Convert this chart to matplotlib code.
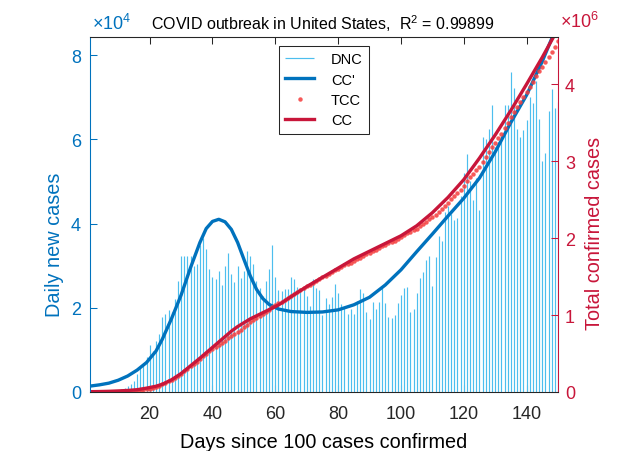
import matplotlib

matplotlib.use("Agg")
import matplotlib.pyplot as plt
import numpy as np

plt.rcParams["font.family"] = ["Liberation Sans", "DejaVu Sans"]
plt.rcParams["mathtext.fontset"] = "custom"
plt.rcParams["mathtext.rm"] = "Liberation Sans"
plt.rcParams["mathtext.default"] = "regular"

# daily new cases, days 1..150 (units of 1e4)
days = np.arange(1, 151)
dnc = [
    0.003, 0.004, 0.005, 0.007, 0.009, 0.012, 0.016, 0.022, 0.03, 0.04,
    0.06, 0.09, 0.14, 0.19, 0.26, 0.43, 0.58, 0.65, 0.84, 1.11,
    0.98, 1.22, 1.37, 1.78, 1.85, 1.94, 1.89, 2.20, 2.64, 3.23,
    3.23, 3.23, 3.24, 2.99, 3.05, 3.48, 3.66, 3.40, 2.91, 2.72,
    2.68, 2.87, 2.54, 2.99, 3.29, 2.80, 2.60, 2.98, 2.70, 2.87,
    3.35, 3.23, 3.03, 2.64, 2.48, 2.28, 2.64, 2.91, 3.48, 2.72,
    2.42, 2.40, 2.44, 2.44, 2.73, 2.68, 2.50, 2.48, 2.44, 2.28,
    2.03, 2.68, 2.46, 2.42, 1.82, 2.23, 2.09, 2.26, 2.56, 2.35,
    2.10, 2.01, 1.85, 1.97, 1.85, 2.16, 2.44, 2.35, 1.89, 1.73,
    2.14, 1.97, 2.14, 2.48, 2.11, 1.78, 1.75, 1.82, 2.11, 2.30,
    2.48, 2.50, 1.89, 1.97, 2.36, 2.70, 2.84, 3.14, 3.22, 2.51,
    3.21, 3.70, 3.59, 4.27, 4.42, 4.22, 4.08, 4.12, 4.65, 5.19,
    5.66, 5.01, 4.57, 5.09, 4.31, 6.06, 6.01, 6.25, 6.82, 5.82,
    5.93, 6.07, 6.81, 6.82, 7.59, 7.22, 6.25, 6.05, 6.22, 6.45,
    7.01, 6.85, 7.38, 6.49, 5.48, 5.68, 6.67, 7.20, 6.75, 6.88,
]
first_total = 100

# fitted curves
fit_days = [1, 4, 7, 10, 13, 16, 19, 22, 24, 27, 30, 33, 36, 38, 40, 42, 44,
            46, 48, 50, 52, 54, 56, 58, 61, 65, 70, 75, 80, 85, 90, 95, 100,
            105, 110, 115, 120, 125, 130, 135, 140, 145, 150]
cc_prime = [0.14, 0.17, 0.21, 0.28, 0.38, 0.52, 0.70, 0.97, 1.25, 1.75, 2.30,
            2.95, 3.55, 3.88, 4.05, 4.10, 4.04, 3.86, 3.55, 3.15, 2.76, 2.44,
            2.22, 2.08, 1.97, 1.91, 1.89, 1.90, 1.95, 2.07, 2.25, 2.54, 2.90,
            3.33, 3.75, 4.18, 4.60, 5.08, 5.70, 6.40, 7.05, 7.85, 8.75]  # 1e4
cc = [0.004, 0.006, 0.009, 0.014, 0.02, 0.03, 0.05, 0.075, 0.10, 0.16, 0.24,
      0.34, 0.44, 0.51, 0.58, 0.65, 0.72, 0.79, 0.85, 0.90, 0.95, 0.99, 1.03,
      1.07, 1.13, 1.24, 1.37, 1.49, 1.61, 1.73, 1.83, 1.93, 2.03, 2.16, 2.33,
      2.53, 2.76, 3.04, 3.34, 3.66, 4.00, 4.35, 4.72]  # 1e6

r2 = 0.99899
c_dnc = "#4DBEEE"
c_blue = "#0072BD"
c_red = "#C8163A"
c_dot = "#F53C3C"
c_dark = "#262626"

W, H = 625, 452
fig = plt.figure(figsize=(W / 100, H / 100), dpi=100)
ax = fig.add_axes([90 / W, 59 / H, 468 / W, 355.5 / H])
ax2 = ax.twinx()

dnc_abs = np.array(dnc) * 1e4
tcc = first_total + np.cumsum(dnc_abs)

h_dnc = ax.vlines(days, 0, dnc_abs, colors=c_dnc, lw=0.85, label="DNC")
h_ccp, = ax.plot(fit_days, np.array(cc_prime) * 1e4, color=c_blue, lw=2.4,
                 label="CC'")
h_tcc, = ax2.plot(days, tcc, "o", ms=3.2, color=c_dot, mec="none",
                  alpha=0.85, label="TCC")
h_cc, = ax2.plot(fit_days, np.array(cc) * 1e6, color=c_red, lw=2.4,
                 label="CC")

ax.set_xlim(1, 150)
ax.set_ylim(0, 8.44e4)
ax2.set_ylim(0, 4.62e6)

ax.set_xticks(np.arange(20, 141, 20))
ax.set_yticks(np.arange(0, 8.1e4, 2e4))
ax.set_yticklabels([str(v) for v in range(0, 9, 2)])
ax2.set_yticks(np.arange(0, 4.1e6, 1e6))
ax2.set_yticklabels([str(v) for v in range(0, 5)])

ax.tick_params(axis="x", direction="in", top=True, length=5, width=0.75,
               pad=9.5, labelsize=13, colors=c_dark)
ax.tick_params(axis="y", direction="in", length=5, width=0.75, pad=6.5,
               labelsize=13, colors=c_blue)
ax2.tick_params(axis="y", direction="in", length=5, width=0.75, pad=5,
                labelsize=13, colors=c_red)

for a in (ax, ax2):
    for s in a.spines.values():
        s.set_linewidth(0.75)
    a.spines["top"].set_color(c_dark)
    a.spines["bottom"].set_color(c_dark)
    a.spines["left"].set_color(c_blue)
    a.spines["right"].set_color(c_red)

fig.text(322.5 / W, 1 - 30 / H,
         "COVID outbreak in United States,  R$^2$ = {:.5f}".format(r2),
         ha="center", va="baseline", fontsize=11.5)
fig.text(92 / W, 1 - 30 / H, "\u00d710$^4$", ha="left", va="baseline",
         fontsize=13, color=c_blue)
fig.text(560 / W, 1 - 28 / H, "\u00d710$^6$", ha="left", va="baseline",
         fontsize=13, color=c_red)
fig.text(324 / W, 1 - 448 / H, "Days since 100 cases confirmed",
         ha="center", va="baseline", fontsize=14.3)
fig.text(55 / W, 1 - 245 / H, "Daily new cases", rotation=90,
         ha="center", va="center", fontsize=14.3, color=c_blue)
fig.text(595 / W, 1 - 233 / H, "Total confirmed cases", rotation=90,
         ha="center", va="center", fontsize=14.3, color=c_red)

leg = ax2.legend([h_dnc, h_ccp, h_tcc, h_cc], ["DNC", "CC'", "TCC", "CC"],
                 loc="upper left", bbox_to_anchor=(279 / W, 1 - 47 / H),
                 bbox_transform=fig.transFigure, borderaxespad=0,
                 fontsize=10.5, handlelength=2.0, handletextpad=1.15,
                 labelspacing=0.44, borderpad=0.42, fancybox=False,
                 framealpha=1, edgecolor=c_dark)
leg.get_frame().set_linewidth(0.75)

fig.savefig("out.png", dpi=100)
